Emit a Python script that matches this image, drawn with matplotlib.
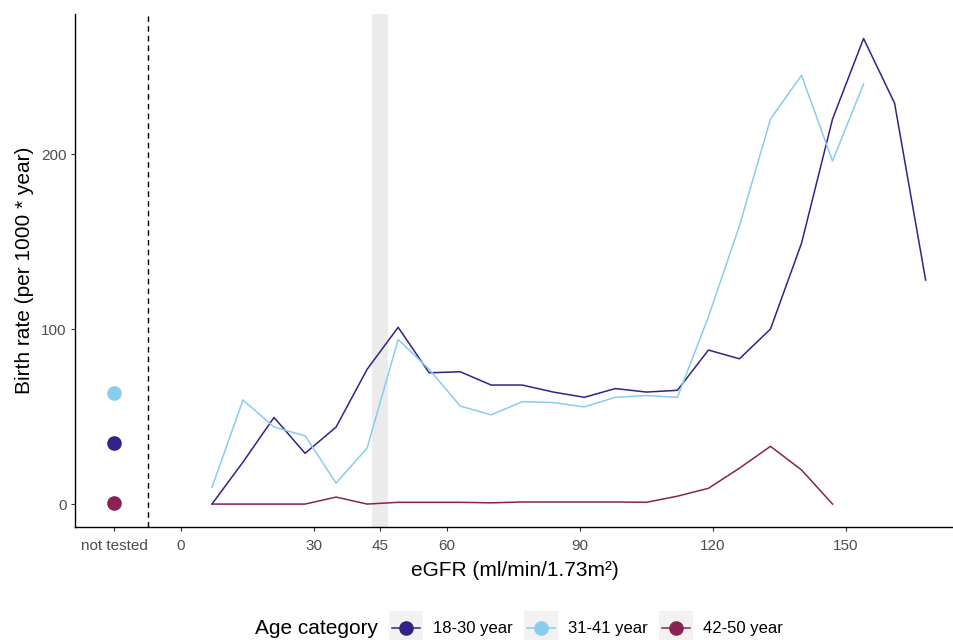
import matplotlib
matplotlib.use("Agg")
import matplotlib.pyplot as plt
from matplotlib.lines import Line2D
from matplotlib.patches import Rectangle

plt.rcParams['font.family'] = ['Liberation Sans', 'DejaVu Sans']

# ---------------- data ----------------
groups = ["18-30 year", "31-41 year", "42-50 year"]
colors = ["#332288", "#88CCEE", "#882255"]

egfr_1830 = [7, 14, 21, 28, 35, 42, 49, 56, 63, 70, 77, 84, 91, 98, 105, 112,
             119, 126, 133, 140, 147, 154, 161, 168]
rate_1830 = [0, 24, 49.5, 29, 44, 77, 101, 75, 75.6, 68, 68, 64, 61, 66, 64, 65,
             88, 83, 100, 149, 220, 266, 229, 128]

egfr_3141 = [7, 14, 21, 28, 35, 42, 49, 56, 63, 70, 77, 84, 91, 98, 105, 112,
             119, 126, 133, 140, 147, 154]
rate_3141 = [9.5, 59.5, 44, 39, 12, 32, 94, 77, 56, 51, 58.5, 58, 55.5, 61, 62, 61,
             107, 159, 220, 245, 196, 240]

egfr_4250 = [7, 14, 21, 28, 35, 42, 49, 56, 63, 70, 77, 84, 91, 98, 105, 112,
             119, 126, 133, 140, 147]
rate_4250 = [0, 0, 0, 0, 4, 0, 1, 1, 1, 0.7, 1.2, 1.2, 1.2, 1.2, 1, 4.5,
             9, 20.5, 33, 19.5, 0]

not_tested_x = -15
not_tested_rates = [35, 63.3, 0.4]

x_ticks = [-15, 0, 30, 45, 60, 90, 120, 150]
x_ticklabels = ["not tested", "0", "30", "45", "60", "90", "120", "150"]
y_ticks = [0, 100, 200]

band_range = (43.2, 46.7)
separator_x = -7.5

# ---------------- figure ----------------
W, H = 954, 640
fig = plt.figure(figsize=(W / 100, H / 100), dpi=100)
ax = fig.add_axes([75 / W, 113 / H, (W - 75) / W, (527 - 14) / H])

ax.axvspan(band_range[0], band_range[1], color="#EBEBEB", lw=0, zorder=0)
ax.axvline(separator_x, color="black", lw=1.0, linestyle=(0, (4, 3)), zorder=1)

series = [(egfr_1830, rate_1830), (egfr_3141, rate_3141), (egfr_4250, rate_4250)]
for (xs, ys), c in zip(series, colors):
    ax.plot(xs, ys, color=c, lw=1.1, zorder=2)
for r, c in zip(not_tested_rates, colors):
    ax.plot([not_tested_x], [r], 'o', color=c, markersize=9.5, zorder=3)

ax.set_xlim(-23.9, 174.4)
ax.set_ylim(-13.1, 280)
ax.set_xticks(x_ticks)
ax.set_xticklabels(x_ticklabels)
ax.set_yticks(y_ticks)

for s in ["top", "right"]:
    ax.spines[s].set_visible(False)
for s in ["left", "bottom"]:
    ax.spines[s].set_linewidth(1.0)
    ax.spines[s].set_color("black")
ax.tick_params(axis="both", length=3, width=0.8, color="#333333",
               labelsize=11, labelcolor="#4D4D4D")
ax.tick_params(axis="x", pad=6)
ax.tick_params(axis="y", pad=3)

ax.set_xlabel("eGFR (ml/min/1.73m²)", fontsize=15, color="black", labelpad=5.5)
ax.set_ylabel("Birth rate (per 1000 * year)", fontsize=15, color="black", labelpad=5)

# ---------------- legend (bottom, ggplot style) ----------------
def fx(px):
    return px / W

def fy(py):
    return (H - py) / H

yc = 628
fig.text(fx(255), fy(yc + 1), "Age category", fontsize=15, va="center", ha="left")
key_lefts = [389, 524, 659]
label_lefts = [433, 568, 703]
for kl, ll, c, g in zip(key_lefts, label_lefts, colors, groups):
    fig.patches.append(Rectangle((fx(kl), fy(645)), fx(34), 34 / H,
                                 transform=fig.transFigure, facecolor="#F2F2F2",
                                 edgecolor="none", zorder=0))
    fig.lines.append(Line2D([fx(kl + 3), fx(kl + 31)], [fy(yc), fy(yc)],
                            transform=fig.transFigure, color=c, lw=1.1))
    fig.lines.append(Line2D([fx(kl + 17)], [fy(yc)], transform=fig.transFigure,
                            color=c, marker='o', markersize=9.5, lw=0))
    fig.text(fx(ll), fy(yc), g, fontsize=12, va="center", ha="left")

fig.savefig("out.png", dpi=100)
